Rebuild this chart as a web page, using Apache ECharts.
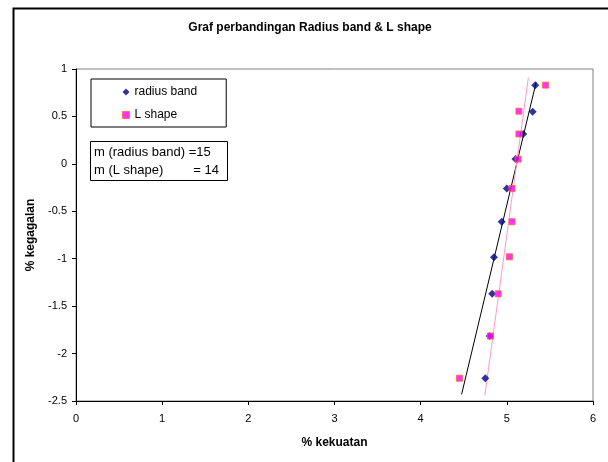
<!DOCTYPE html>
<html>
<head>
<meta charset="utf-8">
<script src="https://cdn.jsdelivr.net/npm/echarts@6/dist/echarts.min.js"></script>
<style>html,body{margin:0;padding:0;background:#fff;}#c{width:608px;height:462px;}</style>
</head>
<body>
<div id="c"></div>
<script>
// Data
const radiusBandX = [5.33, 5.30, 5.19, 5.10, 5.00, 4.94, 4.85, 4.83, 4.80, 4.75];
const radiusBandY = [0.83, 0.55, 0.315, 0.05, -0.26, -0.61, -0.985, -1.37, -1.815, -2.26];
const lShapeX = [5.45, 5.14, 5.14, 5.13, 5.06, 5.06, 5.03, 4.90, 4.81, 4.45];
const lShapeY = [0.83, 0.555, 0.315, 0.05, -0.26, -0.61, -0.98, -1.37, -1.815, -2.26];
// Trend line end points
const radiusFitX = [4.475, 5.34];
const radiusFitY = [-2.43, 0.86];
const lShapeFitX = [4.745, 5.25];
const lShapeFitY = [-2.44, 0.91];
const seriesNames = ['radius band', 'L shape'];
const slopeLines = ['m (radius band) =15', 'm (L shape)', '= 14'];
const titleText = 'Graf perbandingan Radius band & L shape';
const xName = '% kekuatan';
const yName = '% kegagalan';

const zip = (xs, ys) => xs.map((x, i) => [x, ys[i]]);
const FONT = '"Liberation Sans", Arial, sans-serif';

const chart = echarts.init(document.getElementById('c'), null, {renderer: 'canvas'});
chart.setOption({
  animation: false,
  backgroundColor: '#fff',
  title: {
    text: titleText,
    left: 305, top: 17, textAlign: 'center',
    textStyle: {fontFamily: FONT, fontSize: 12, fontWeight: 'bold', color: '#000'}
  },
  grid: {left: 76, top: 69, right: 15, bottom: 61, show: true, borderColor: '#808080', borderWidth: 1, backgroundColor: '#fff'},
  xAxis: {
    type: 'value', min: 0, max: 6, interval: 1,
    name: xName, nameLocation: 'middle', nameGap: 36,
    nameTextStyle: {fontFamily: FONT, fontSize: 12, fontWeight: 'bold', color: '#000'},
    axisLine: {show: true, onZero: false, lineStyle: {color: '#000', width: 1}},
    axisTick: {show: true, length: 4, lineStyle: {color: '#000'}},
    axisLabel: {fontFamily: FONT, fontSize: 11, color: '#000', margin: 12},
    splitLine: {show: false}
  },
  yAxis: {
    type: 'value', min: -2.5, max: 1, interval: 0.5,
    name: yName, nameLocation: 'middle', nameGap: 38, nameRotate: 90,
    nameTextStyle: {fontFamily: FONT, fontSize: 12, fontWeight: 'bold', color: '#000'},
    axisLine: {show: true, onZero: false, lineStyle: {color: '#000', width: 1}},
    axisTick: {show: true, length: 4, lineStyle: {color: '#000'}},
    axisLabel: {fontFamily: FONT, fontSize: 11, color: '#000', margin: 9},
    splitLine: {show: false}
  },
  legend: {
    data: [
      {name: seriesNames[0], icon: 'diamond', itemStyle: {color: '#000080'}},
      {name: seriesNames[1], icon: 'rect', itemStyle: {color: '#FF00FF', borderColor: '#FF6633', borderWidth: 1}}
    ],
    orient: 'vertical', left: 91, top: 79,
    itemWidth: 7, itemHeight: 7, itemGap: 11,
    padding: [7, 29, 6, 31],
    borderColor: '#000', borderWidth: 1, backgroundColor: '#fff',
    textStyle: {fontFamily: FONT, fontSize: 12, color: '#000'}
  },
  series: [
    {
      name: 'fit-radius', type: 'line', data: zip(radiusFitX, radiusFitY),
      symbol: 'none', lineStyle: {color: '#000', width: 1}, silent: true, z: 2
    },
    {
      name: 'fit-lshape', type: 'line', data: zip(lShapeFitX, lShapeFitY),
      symbol: 'none', lineStyle: {color: '#FF99CC', width: 1}, silent: true, z: 2
    },
    {
      name: seriesNames[0], type: 'scatter', data: zip(radiusBandX, radiusBandY),
      symbol: 'diamond', symbolSize: 8,
      itemStyle: {color: '#000080'}, z: 3
    },
    {
      name: seriesNames[1], type: 'scatter', data: zip(lShapeX, lShapeY),
      symbol: 'rect', symbolSize: 6,
      itemStyle: {color: '#FF00FF', borderColor: '#FF6633', borderWidth: 1}, z: 4
    }
  ],
  graphic: [
    {type: 'rect', left: 11, top: 6, shape: {width: 700, height: 600},
     style: {fill: 'none', stroke: '#000', lineWidth: 2}, z: 100, silent: true},
    {type: 'rect', left: 90, top: 141, shape: {width: 137, height: 39},
     style: {fill: '#fff', stroke: '#000', lineWidth: 1}, z: 100},
    {type: 'text', left: 94, top: 146, z: 101,
     style: {text: slopeLines[0], font: '13px ' + FONT, fill: '#000'}},
    {type: 'text', left: 94, top: 164, z: 101,
     style: {text: slopeLines[1], font: '13px ' + FONT, fill: '#000'}},
    {type: 'text', right: 608 - 219, top: 164, z: 101,
     style: {text: slopeLines[2], font: '13px ' + FONT, fill: '#000'}}
  ]
});
</script>
</body>
</html>
